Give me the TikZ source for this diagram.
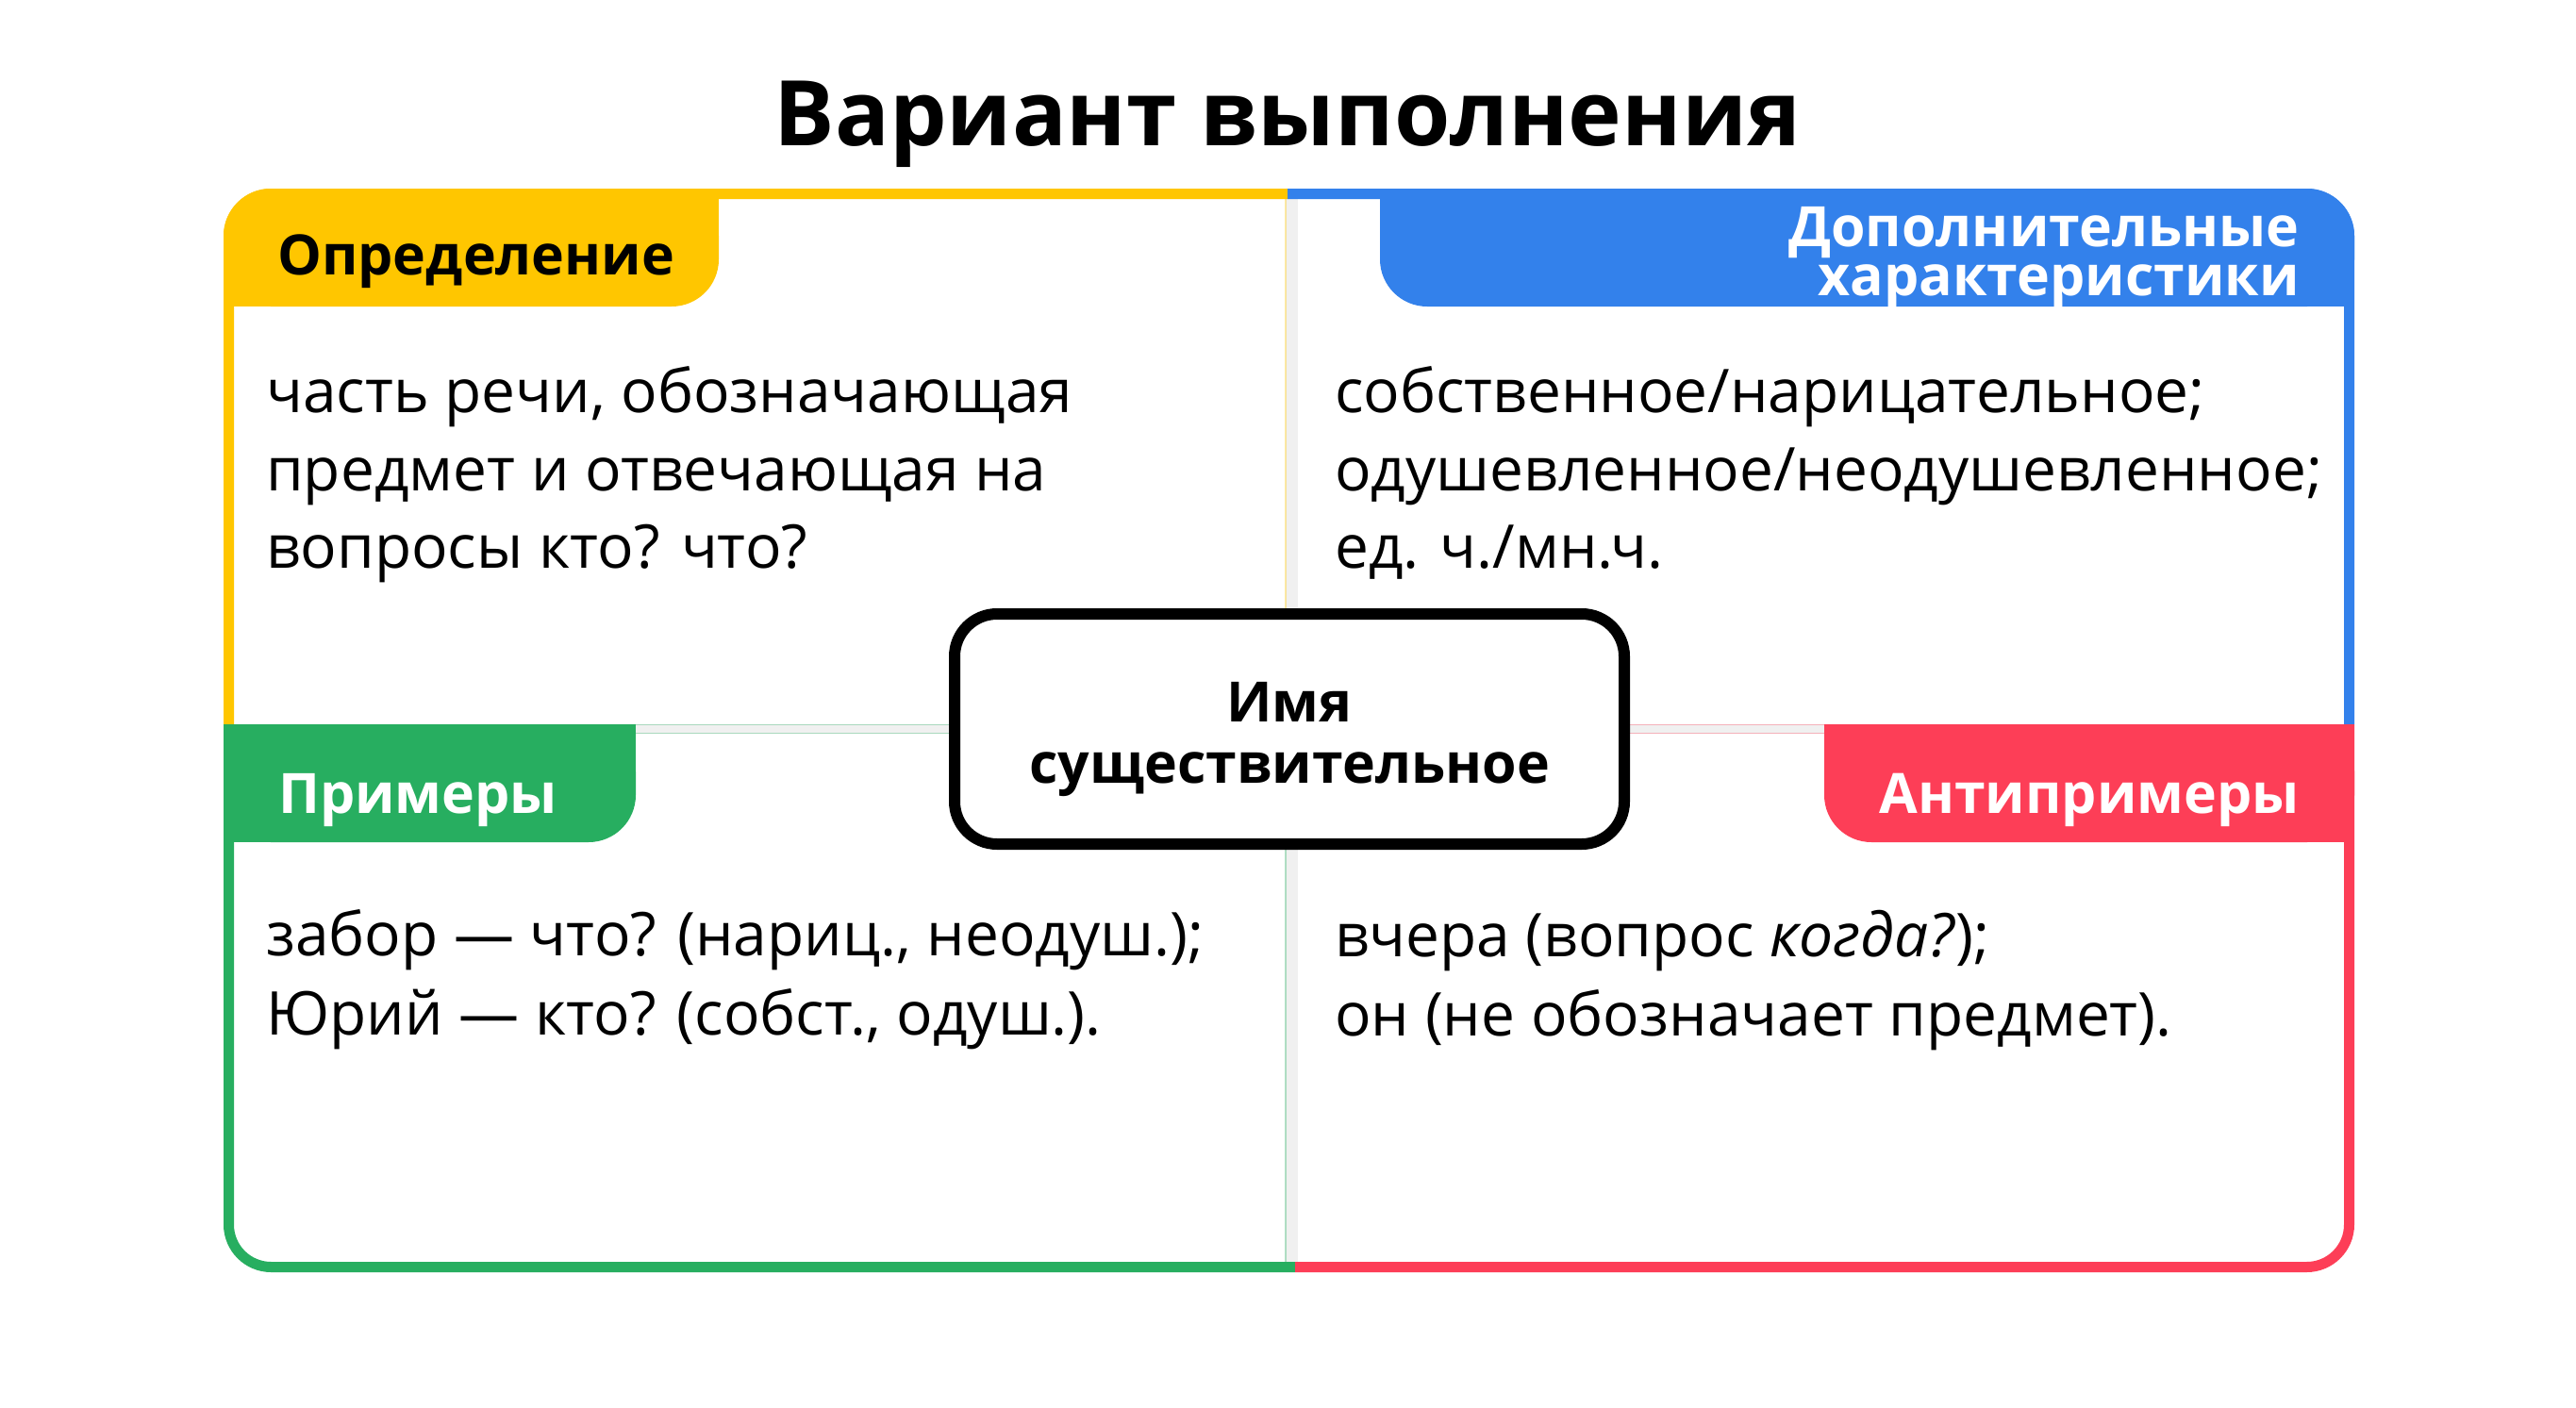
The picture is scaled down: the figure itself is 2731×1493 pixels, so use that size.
\documentclass[tikz,border=0pt]{standalone}
\usepackage{fontspec}
\setmainfont{Open Sans}
\definecolor{cyell}{HTML}{FFC600}
\definecolor{cblue}{HTML}{3381EB}
\definecolor{cgreen}{HTML}{27AE60}
\definecolor{cred}{HTML}{FD3E57}
\definecolor{cband}{HTML}{F0F0F0}
\begin{document}
\begin{tikzpicture}[x=1pt,y=-1pt,
  bodytext/.style={font=\fontsize{64}{72}\selectfont, anchor=base west, inner sep=0pt, text=black},
  tabtext/.style={font=\bfseries\fontsize{59}{62}\selectfont, inner sep=0pt},
  centertext/.style={font=\bfseries\fontsize{59}{64}\selectfont, anchor=base, inner sep=0pt, text=black},
  border/.style={line width=11pt},
  thinedge/.style={line width=1.5pt, opacity=0.35}]
\useasboundingbox[fill=white] (0,0) rectangle (2731,1493);

% title
\node[font=\bfseries\fontsize{96}{104}\selectfont, anchor=base, inner sep=0pt] (title) at (1365,155) {Вариант выполнения};

% divider bands
\fill[cband] (1363,211) rectangle (1376,1338);
\fill[cband] (248,768) rectangle (2485,778);
\draw[thinedge, cyell] (1363,211) -- (1363,645);
\draw[thinedge, cgreen] (1363,901) -- (1363,1338);
\draw[thinedge, cgreen] (674,768.5) -- (1006,768.5);
\draw[thinedge, cgreen] (674,777.5) -- (1006,777.5);
\draw[thinedge, cred] (1728,768.5) -- (1934,768.5);
\draw[thinedge, cred] (1728,777.5) -- (1934,777.5);

% tabs
\fill[cyell, rounded corners=50] (237,200) rectangle (762,325);
\fill[cyell] (700,200) rectangle (762,260);
\fill[cyell] (237,260) rectangle (300,325);

\fill[cblue, rounded corners=50] (1463,200) rectangle (2496,325);
\fill[cblue] (1463,200) rectangle (1530,260);
\fill[cblue] (2430,260) rectangle (2496,325);

\fill[cgreen, rounded corners=50] (237,768) rectangle (674,893);
\fill[cgreen] (237,768) rectangle (674,830);
\fill[cgreen] (237,768) rectangle (600,893);

\fill[cred, rounded corners=50] (1934,768) rectangle (2496,893);
\fill[cred] (1934,768) rectangle (2496,830);
\fill[cred] (2000,768) rectangle (2496,893);

% outer borders
\draw[border, cyell, rounded corners=45] (242.5,768) -- (242.5,205.5) -- (1365,205.5);
\draw[border, cblue, rounded corners=45] (1365,205.5) -- (2490.5,205.5) -- (2490.5,768);
\draw[border, cgreen, rounded corners=45] (242.5,768) -- (242.5,1343.5) -- (1373,1343.5);
\draw[border, cred, rounded corners=45] (1373,1343.5) -- (2490.5,1343.5) -- (2490.5,768);

% tab labels
\node[tabtext, anchor=base west, text=black] (hdef) at (294,291) {Определение};
\node[tabtext, anchor=base east, text=white] (hadd1) at (2438,261) {Дополнительные};
\node[tabtext, anchor=base east, text=white] (hadd2) at (2438,313) {характеристики};
\node[tabtext, anchor=base west, text=white] (hex) at (295,862) {Примеры};
\node[tabtext, anchor=base east, text=white] (hanti) at (2438,862) {Антипримеры};

% body texts
\node[bodytext] (d1) at (282,437) {часть речи, обозначающая};
\node[bodytext] (d2) at (282,520) {предмет и отвечающая на};
\node[bodytext] (d3) at (282,602) {вопросы кто? что?};

\node[bodytext] (a1) at (1415,437) {собственное/нарицательное;};
\node[bodytext] (a2) at (1415,520) {одушевленное/неодушевленное;};
\node[bodytext] (a3) at (1415,602) {ед. ч./мн.ч.};

\node[bodytext] (e1) at (282,1013) {забор — что? (нариц., неодуш.);};
\node[bodytext] (e2) at (282,1097) {Юрий — кто? (собст., одуш.).};

\node[bodytext] (n1) at (1415,1014) {вчера (вопрос \textit{когда?});};
\node[bodytext] (n2) at (1415,1098) {он (не обозначает предмет).};

% center box
\node[draw=black, fill=white, line width=12pt, rounded corners=45, minimum width=710pt, minimum height=244pt, inner sep=0pt] (centerbox) at (1367,773) {};
\node[centertext] (c1) at (1367,765) {Имя};
\node[centertext] (c2) at (1367,830) {существительное};
\end{tikzpicture}
\end{document}
